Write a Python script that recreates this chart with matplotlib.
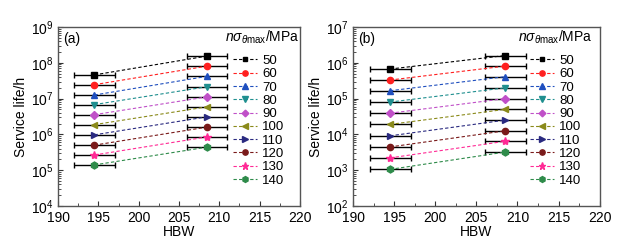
import matplotlib.pyplot as plt
from matplotlib.ticker import MultipleLocator, LogLocator, NullFormatter

plt.rcParams['font.family'] = ['Liberation Sans', 'DejaVu Sans']
plt.rcParams['mathtext.fontset'] = 'custom'
plt.rcParams['mathtext.it'] = 'Liberation Sans:italic'
plt.rcParams['mathtext.rm'] = 'Liberation Sans'

# Brinell hardness of the two materials
hbw = [194.5, 208.5]
hbw_err = 2.5

stress = [50, 60, 70, 80, 90, 100, 110, 120, 130, 140]

# service life (h) at each stress: [low HBW, high HBW]
life_a = [[4.6e7, 1.55e8], [2.45e7, 8.1e7], [1.26e7, 4.2e7], [6.8e6, 2.15e7],
          [3.55e6, 1.12e7], [1.87e6, 5.9e6], [9.7e5, 3.1e6], [5.0e5, 1.6e6],
          [2.65e5, 8.5e5], [1.4e5, 4.4e5]]
life_b = [[6.7e5, 1.6e6], [3.3e5, 8.1e5], [1.66e5, 4.1e5], [8.0e4, 2.0e5],
          [3.9e4, 1.0e5], [1.9e4, 5.0e4], [9.1e3, 2.5e4], [4.45e3, 1.26e4],
          [2.2e3, 6.4e3], [1.05e3, 3.2e3]]

colors = ['#000000', '#ff2020', '#1f4fbf', '#1f8f8f', '#c050c8', '#8a8a1a',
          '#2a2a80', '#7a1a1a', '#ff2a95', '#2e8b4a']
markers = ['s', 'o', '^', 'v', 'D', '<', '>', 'o', '*', 'h']
msizes = [4, 4.5, 5, 5, 4, 5, 5, 4.5, 6, 5]

fig = plt.figure(figsize=(6.26, 2.46), dpi=100)
ax_a = fig.add_axes([0.093, 0.163, 0.386, 0.727])
ax_b = fig.add_axes([0.564, 0.163, 0.394, 0.727])


def draw(ax, life, ylim, tag, leg_x, title_x):
    for i, s in enumerate(stress):
        ax.errorbar(hbw, life[i], xerr=hbw_err, fmt='none', ecolor='black',
                    elinewidth=1, capsize=2.5, capthick=1, zorder=2)
        ax.plot(hbw, life[i], linestyle='--', dashes=(3, 2), lw=0.8,
                color=colors[i], marker=markers[i], ms=msizes[i],
                label=str(s), zorder=3)
    ax.set_yscale('log')
    ax.set_xlim(190, 220)
    ax.set_ylim(*ylim)
    ax.xaxis.set_major_locator(MultipleLocator(5))
    ax.xaxis.set_minor_locator(MultipleLocator(2.5))
    ax.yaxis.set_major_locator(LogLocator(base=10, numticks=10))
    ax.yaxis.set_minor_locator(LogLocator(base=10, subs=range(2, 10), numticks=10))
    ax.yaxis.set_minor_formatter(NullFormatter())
    ax.tick_params(which='both', direction='in', labelsize=10, color='#333333')
    ax.tick_params(which='major', length=3.5)
    ax.tick_params(which='minor', length=2)
    ax.tick_params(axis='x', pad=4)
    for sp in ax.spines.values():
        sp.set_color('#555555')
        sp.set_linewidth(1)
    ax.set_xlabel('HBW', fontsize=10, labelpad=0)
    ax.set_ylabel('Service life/h', fontsize=10, labelpad=2)
    ax.text(0.02, 0.933, tag, transform=ax.transAxes, fontsize=10, va='center')
    ax.text(title_x, 0.94, r'$n\sigma_{\theta\mathrm{max}}$/MPa', transform=ax.transAxes,
            fontsize=10, va='center', ha='left')
    ax.legend(loc='upper left', bbox_to_anchor=(leg_x, 0.845), frameon=False,
              fontsize=9.5, labelspacing=0.08, handlelength=1.8,
              handletextpad=0.4, borderpad=0, borderaxespad=0, numpoints=1,
              markerscale=0.85)


draw(ax_a, life_a, (1e4, 1e9), '(a)', 0.723, 0.69)
draw(ax_b, life_b, (1e2, 1e7), '(b)', 0.717, 0.668)

fig.savefig('out.png', dpi=100)
